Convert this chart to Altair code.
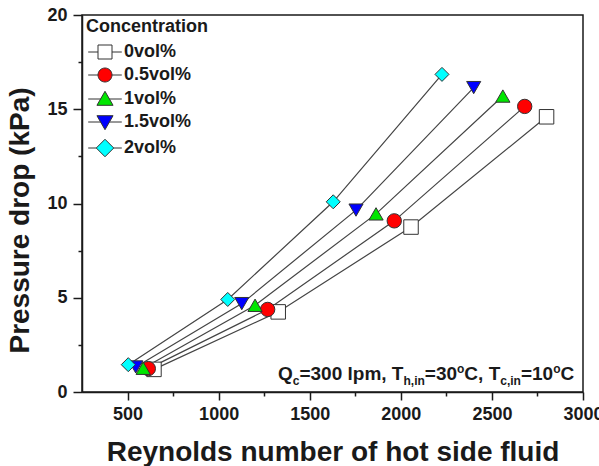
import altair as alt
import pandas as pd

# ---- data ----
series = ["0vol%", "0.5vol%", "1vol%", "1.5vol%", "2vol%"]
re_0 = [645, 1327, 2056, 2800]
dp_0 = [1.20, 4.25, 8.75, 14.6]
re_05 = [614, 1269, 1964, 2680]
dp_05 = [1.24, 4.38, 9.08, 15.15]
re_1 = [586, 1200, 1864, 2560]
dp_1 = [1.26, 4.60, 9.45, 15.7]
re_15 = [545, 1127, 1754, 2400]
dp_15 = [1.33, 4.69, 9.65, 16.15]
re_2 = [504, 1050, 1629, 2226]
dp_2 = [1.45, 4.91, 10.09, 16.85]

x_major = [500, 1000, 1500, 2000, 2500, 3000]
x_minor = [750, 1250, 1750, 2250, 2750]
y_major = [0, 5, 10, 15, 20]
y_minor = [2.5, 7.5, 12.5, 17.5]

fills = ["#FFFFFF", "#FF0000", "#00E600", "#0000FF", "#00FFFF"]
shapes = ["square", "circle", "triangle-up", "triangle-down", "diamond"]
sizes = [210, 196, 240, 270, 300]
legend_paths = [
    "M-2.4,0H-1M1,0H2.4M-1,-1H1V1H-1Z",
    "M-2.4,0H-1M1,0H2.4M-1,0A1,1,0,1,0,1,0A1,1,0,1,0,-1,0Z",
    "M-2.4,0H-0.6M0.6,0H2.4M0,-1.1L1.15,0.9H-1.15Z",
    "M-2.4,0H-0.6M0.6,0H2.4M0,1.1L1.15,-0.9H-1.15Z",
    "M-2.4,0H-1.25M1.25,0H2.4M0,-1.25L1.25,0L0,1.25L-1.25,0Z",
]

rows = []
for name, xs, ys in zip(series, [re_0, re_05, re_1, re_15, re_2],
                        [dp_0, dp_05, dp_1, dp_15, dp_2]):
    for a, b in zip(xs, ys):
        rows.append({"series": name, "Re": a, "dp": b})
df = pd.DataFrame(rows)

FONT = "Liberation Sans"
W, H = 501, 377

xs = alt.Scale(domain=[250, 3000], nice=False, zero=False)
ys = alt.Scale(domain=[0, 20], nice=False, zero=False)

x_enc = alt.X("Re:Q", scale=xs, axis=alt.Axis(
    values=sorted(x_major + x_minor),
    labelExpr="datum.value % 500 === 0 ? datum.label : ''",
    tickSize={"condition": {"test": "datum.value % 500 === 0", "value": 8}, "value": 4},
    labelOverlap=False, labelFlush=False, grid=False, format="d", labelPadding=5,
    title="Reynolds number of hot side fluid", titlePadding=15))
y_enc = alt.Y("dp:Q", scale=ys, axis=alt.Axis(
    values=sorted(y_major + y_minor),
    labelExpr="datum.value % 5 === 0 ? datum.label : ''",
    tickSize={"condition": {"test": "datum.value % 5 === 0", "value": 9}, "value": 4},
    labelOverlap=False, labelFlush=False, grid=False, labelPadding=6,
    title="Pressure drop (kPa)", titleX=-62, titleY=205, titleAngle=-90,
    titleAlign="center", titleBaseline="middle"))

lines = alt.Chart(df).mark_line(color="#444444", strokeWidth=1.2).encode(
    x=x_enc, y=y_enc, detail="series:N")

points = alt.Chart(df).mark_point(filled=True, stroke="#333333", strokeWidth=1, opacity=1).encode(
    x=alt.X("Re:Q", scale=xs),
    y=alt.Y("dp:Q", scale=ys),
    shape=alt.Shape("series:N", scale=alt.Scale(domain=series, range=shapes), legend=None),
    fill=alt.Fill("series:N", scale=alt.Scale(domain=series, range=fills), legend=None),
    size=alt.Size("series:N", scale=alt.Scale(domain=series, range=sizes), legend=None),
)

leg = alt.Legend(title="Concentration", orient="none", legendX=4, legendY=3,
                 titleFont=FONT, titleFontSize=18, titleFontWeight="bold", titleColor="#1a1a1a",
                 labelFont=FONT, labelFontSize=18, labelFontWeight="bold", labelColor="#1a1a1a",
                 symbolSize=196, symbolStrokeWidth=1,
                 labelOffset=10, symbolOffset=10, rowPadding=5, titlePadding=7, padding=0)

legend_layer = alt.Chart(df).transform_filter("false").mark_point(
    filled=True, strokeWidth=1, opacity=1).encode(
    shape=alt.Shape("series:N", scale=alt.Scale(domain=series, range=legend_paths), legend=leg),
    fill=alt.Fill("series:N", scale=alt.Scale(domain=series, range=fills), legend=leg),
    stroke=alt.Stroke("series:N", scale=alt.Scale(domain=series, range=["#333333"] * 5), legend=leg),
)

# ---- annotation with sub/superscripts ----
AW = {'Q': 778, 'c': 556, '=': 584, '3': 556, '0': 556, ' ': 278, 'l': 278, 'p': 611,
      'm': 889, ',': 278, 'T': 611, 'h': 611, 'i': 278, 'n': 611, 'C': 722, '1': 556, 'o': 611}
segments = [("Q", "main"), ("c", "sub"), ("=300 lpm, T", "main"), ("h,in", "sub"),
            ("=30", "main"), ("o", "sup"), ("C, T", "main"), ("c,in", "sub"),
            ("=10", "main"), ("o", "sup"), ("C", "main")]
fs = {"main": 19, "sub": 12, "sup": 12}
base = {"main": 365, "sub": 370, "sup": 358}
one = pd.DataFrame({"k": [0]})
ann_layers = []
cx = 196.0
for txt, kind in segments:
    ann_layers.append(alt.Chart(one).mark_text(
        align="left", baseline="alphabetic", font=FONT, fontWeight="bold",
        fontSize=fs[kind], color="#1a1a1a").encode(
        x=alt.value(cx), y=alt.value(base[kind]), text=alt.value(txt)))
    cx += sum(AW[ch] for ch in txt) * fs[kind] / 1000.0

chart = alt.layer(lines, points, legend_layer, *ann_layers).resolve_scale(
    shape="independent", fill="independent", size="independent", stroke="independent"
).properties(
    width=W, height=H,
    autosize=alt.AutoSizeParams(type="none"),
    padding={"left": 82, "top": 15, "right": 16, "bottom": 74},
).configure_view(stroke="#1a1a1a", strokeWidth=1.5).configure_axis(
    labelFont=FONT, labelFontSize=18, labelFontWeight="bold", labelColor="#1a1a1a",
    titleFont=FONT, titleFontSize=28, titleFontWeight="bold", titleColor="#1a1a1a",
    domainColor="#1a1a1a", domainWidth=1.5, tickColor="#1a1a1a", tickWidth=1.5,
)

chart.save("out.html", embed_options={"renderer": "svg", "actions": False})
